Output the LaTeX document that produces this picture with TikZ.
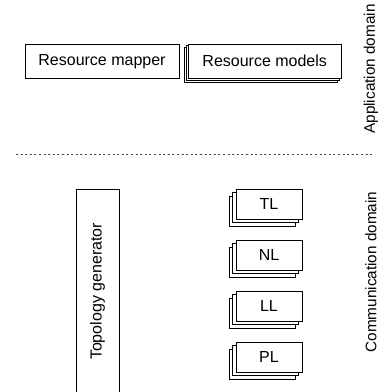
\documentclass[tikz,border=0pt]{standalone}
\usepackage{fontspec}
\setmainfont{Liberation Sans}
\begin{document}
\begin{tikzpicture}[x=1pt,y=-1pt,
  every node/.style={font=\fontsize{16}{19}\selectfont, inner sep=0pt},
  box/.style={draw, fill=white, line width=0.8pt},
  wide/.style={box, minimum width=154pt, minimum height=34.5pt},
  layer/.style={box, minimum width=66pt, minimum height=30pt},
  vert/.style={rotate=90},
  domainlabel/.style={vert, font=\fontsize{15.3}{18}\selectfont}]
\clip (0,0) rectangle (379,392);
\fill[white] (0,0) rectangle (379,392);

% Application domain
\node[wide] (mapper) at (102,61.2) {Resource mapper};
\node[wide, minimum width=153pt] (models3) at (261.1,64.8) {};
\node[wide, minimum width=153pt] (models2) at (262.9,63.0) {};
\node[wide, minimum width=153pt] (models) at (264.7,61.2) {Resource models};

% separator
\coordinate (sepL) at (16,154.7);
\coordinate (sepR) at (373,154.7);
\draw[gray!50!black, line width=0.8pt, dash pattern=on 2pt off 2.6pt] (sepL) -- (sepR);

% Communication domain
\node[box, minimum width=43pt, minimum height=205pt] (topo) at (97.5,291.5) {};
\node[vert] (topotext) at (topo.center) {Topology generator};

\node[layer] (tl3) at (262.4,211) {};
\node[layer] (tl2) at (265.7,207.5) {};
\node[layer] (tl) at (269,204) {TL};

\node[layer] (nl3) at (262.4,262) {};
\node[layer] (nl2) at (265.7,258.5) {};
\node[layer] (nl) at (269,255) {NL};

\node[layer] (ll3) at (262.4,313) {};
\node[layer] (ll2) at (265.7,309.5) {};
\node[layer] (ll) at (269,306) {LL};

\node[layer] (pl3) at (262.4,364) {};
\node[layer] (pl2) at (265.7,360.5) {};
\node[layer] (pl) at (269,357) {PL};

\node[domainlabel] (appdom) at (371,69) {Application domain};
\node[domainlabel] (comdom) at (371,272) {Communication domain};
\end{tikzpicture}
\end{document}
